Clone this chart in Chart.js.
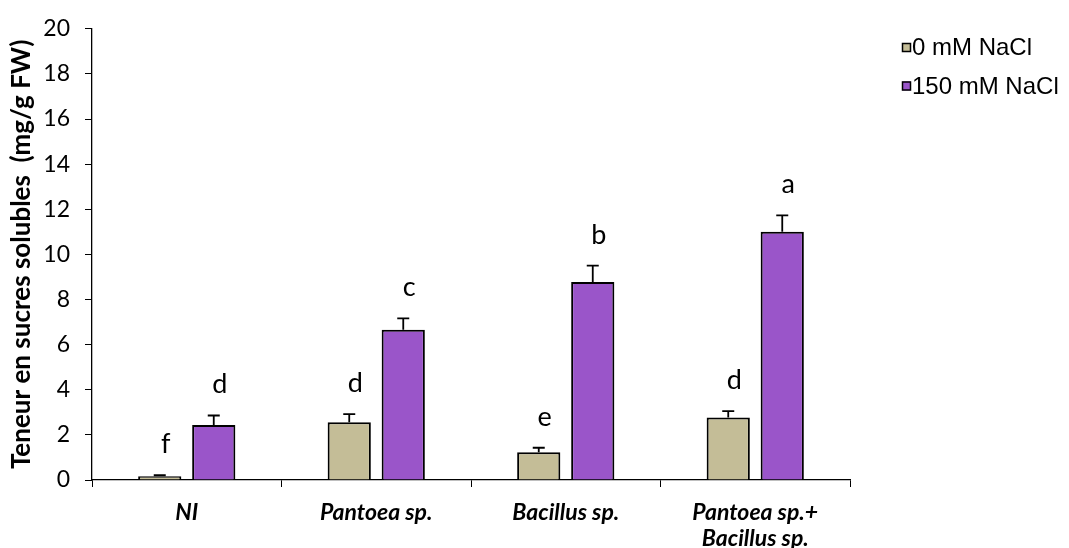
<!DOCTYPE html>
<html>
<head>
<meta charset="utf-8">
<script src="https://cdn.jsdelivr.net/npm/chart.js@4"></script>
<style>
  html, body { margin: 0; padding: 0; background: #fff; }
  #wrap { width: 1069px; height: 548px; }
</style>
</head>
<body>
<div id="wrap"><canvas id="sugarChart" width="1069" height="548"></canvas></div>
<script>
// traitements et moyennes (mg/g FW)
const categories = ['NI', 'Pantoea sp.', 'Bacillus sp.', ['Pantoea sp.+', 'Bacillus sp.']];
const seriesNames = ['0 mM NaCl', '150 mM NaCl'];
const sugar0 = [0.17, 2.56, 1.23, 2.77];
const err0 = [0.04, 0.36, 0.2, 0.28];
const sugar150 = [2.44, 6.66, 8.78, 11.0];
const err150 = [0.42, 0.5, 0.72, 0.73];
const letters0 = ['f', 'd', 'e', 'd'];
const letters150 = ['d', 'c', 'b', 'a'];
const yMin = 0, yMax = 20, yStep = 2;

const colors = ['#c4bd97', '#9a55c9'];
const calibriLike = 'Lato, "Open Sans", sans-serif';

// barres d'erreur (vers le haut) + lettres de significativité
const errorBars = {
    id: 'errorBars',
    afterDatasetsDraw(chart) {
        const ctx = chart.ctx;
        const yScale = chart.scales.y;
        chart.data.datasets.forEach((ds, i) => {
            const meta = chart.getDatasetMeta(i);
            meta.data.forEach((bar, j) => {
                const top = yScale.getPixelForValue(ds.data[j] + ds.errors[j]);
                ctx.save();
                ctx.strokeStyle = '#000';
                ctx.lineWidth = 1.8;
                ctx.beginPath();
                ctx.moveTo(bar.x, bar.y);
                ctx.lineTo(bar.x, top);
                ctx.moveTo(bar.x - 6, top);
                ctx.lineTo(bar.x + 6, top);
                ctx.stroke();

                // lettre un peu décalée à droite de la barre
                ctx.fillStyle = '#000';
                ctx.font = '27px ' + calibriLike;
                ctx.textAlign = 'center';
                ctx.textBaseline = 'alphabetic';
                ctx.fillText(ds.letters[j], bar.x + 6, top - 22);
                ctx.restore();
            });
        });
    }
};

// légende à droite
const sideLegend = {
    id: 'sideLegend',
    afterDraw(chart) {
        const ctx = chart.ctx;
        ctx.save();
        ctx.font = '24px "Liberation Sans", Arial, sans-serif';
        ctx.textBaseline = 'middle';
        chart.data.datasets.forEach((ds, i) => {
            const y = 47.5 + i * 38.5;
            ctx.fillStyle = ds.backgroundColor;
            ctx.fillRect(902, y - 4.5, 9, 9);
            ctx.strokeStyle = '#000';
            ctx.lineWidth = 1.5;
            ctx.strokeRect(902.5, y - 4, 8, 8);
            ctx.fillStyle = '#000';
            ctx.fillText(ds.label, 912, y + 1);
        });
        ctx.restore();
    }
};

new Chart(document.getElementById('sugarChart'), {
    type: 'bar',
    data: {
        labels: categories,
        datasets: [
            { label: seriesNames[0], data: sugar0, errors: err0, letters: letters0,
              backgroundColor: colors[0], borderColor: '#000', borderWidth: 2 },
            { label: seriesNames[1], data: sugar150, errors: err150, letters: letters150,
              backgroundColor: colors[1], borderColor: '#000', borderWidth: 2 }
        ]
    },
    options: {
        responsive: false,
        animation: false,
        devicePixelRatio: 1,
        layout: { padding: { top: 25, right: 219, bottom: 0, left: 0 } },
        categoryPercentage: 0.57,
        barPercentage: 0.8,
        plugins: {
            legend: { display: false },
            tooltip: { enabled: false }
        },
        scales: {
            x: {
                offset: true,
                grid: { offset: true, drawOnChartArea: false, tickLength: 7, color: '#000' },
                border: { display: true, color: '#000', width: 1.3 },
                ticks: {
                    color: '#000',
                    padding: 13,
                    maxRotation: 0,
                    font: { family: calibriLike, size: 23, weight: 'bold', style: 'italic', lineHeight: 1.13 }
                },
                afterFit(scale) { scale.height = 68; }
            },
            y: {
                min: yMin,
                max: yMax,
                ticks: {
                    stepSize: yStep,
                    color: '#000',
                    padding: 15,
                    font: { family: calibriLike, size: 23 }
                },
                grid: { drawOnChartArea: false, tickLength: 7, color: '#000' },
                border: { display: true, color: '#000', width: 1.3 },
                title: {
                    display: true,
                    text: 'Teneur en sucres solubles  (mg/g FW)',
                    color: '#000',
                    padding: { top: 6, bottom: 0 },
                    font: { family: calibriLike, size: 26, weight: 'bold' }
                },
                afterFit(scale) { scale.width = 92; }
            }
        }
    },
    plugins: [errorBars, sideLegend]
});
</script>
</body>
</html>
